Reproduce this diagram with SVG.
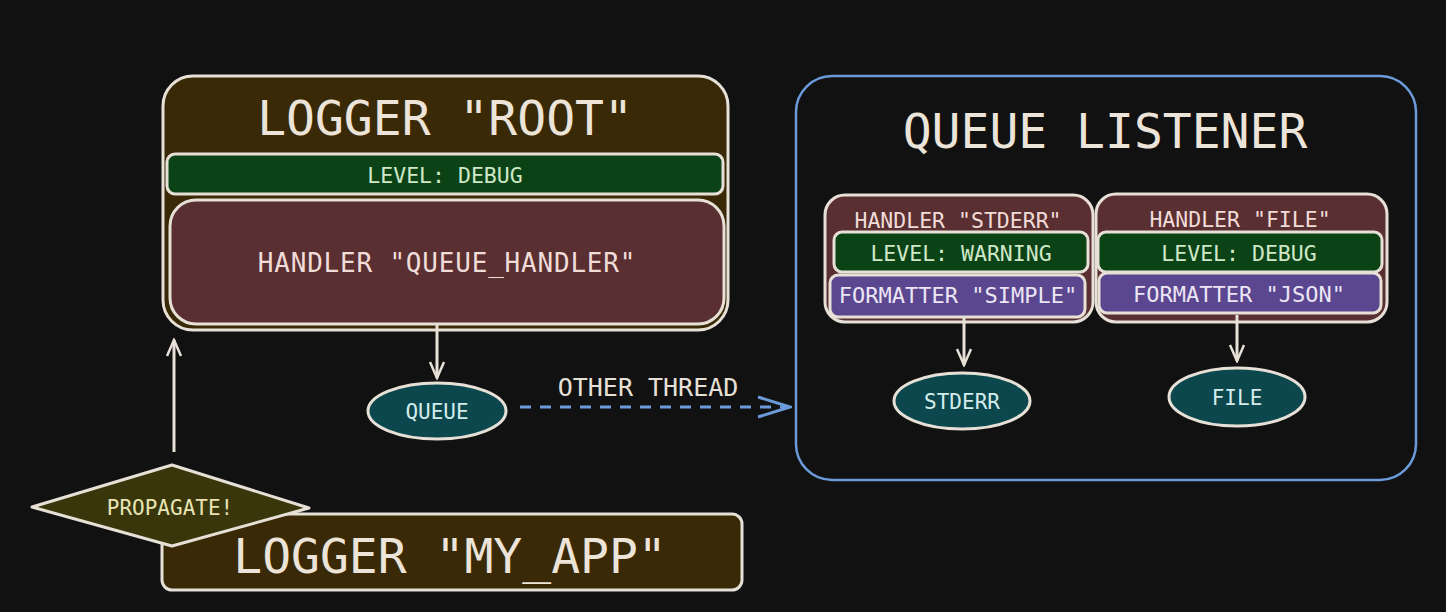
<svg xmlns="http://www.w3.org/2000/svg" width="1446" height="612" viewBox="0 0 1446 612">
<style>
text{font-family:"DejaVu Sans Mono","Liberation Mono",monospace;text-anchor:middle;dominant-baseline:central}
.ln{stroke:#e6e0d6;stroke-width:3;fill:none}
.logger{fill:#3a2906;stroke:#e6e0d6;stroke-width:3}
.level{fill:#0c4316;stroke:#e6e0d6;stroke-width:3}
.handler{fill:#5a2f31;stroke:#e6e0d6;stroke-width:3}
.fmt{fill:#5b4690;stroke:#e6e0d6;stroke-width:3}
.ell{fill:#0b474c;stroke:#e6e0d6;stroke-width:3}
.big{font-size:48px;fill:#ece4d8}
.lvt{font-size:21.5px;fill:#cfe8c8}
.hdt{font-size:21.5px;fill:#f0dcd8}
.fmtt{font-size:22px;fill:#ece6f4}
.elt{font-size:21px;fill:#d4ecec}
</style>
<defs>
<marker id="arr" viewBox="0 0 20 20" refX="18" refY="10" markerWidth="20" markerHeight="20" markerUnits="userSpaceOnUse" orient="auto">
<path d="M2 3 L18 10 L2 17" fill="none" stroke="#e6e0d6" stroke-width="2.5"/>
</marker>
<marker id="arrb" viewBox="0 0 36 30" refX="34" refY="15" markerWidth="36" markerHeight="30" markerUnits="userSpaceOnUse" orient="auto">
<path d="M2 5 L34 15 L2 25" fill="none" stroke="#6b9bd8" stroke-width="3"/>
</marker>
</defs>
<rect width="1446" height="612" fill="#111112"/>

<g id="logger-root">
<rect class="logger" x="163" y="76" width="565" height="254" rx="30"/>
<text class="big" x="445" y="118">LOGGER "ROOT"</text>
<rect class="level" x="167" y="154" width="556" height="40" rx="8"/>
<text class="lvt" x="445" y="175">LEVEL: DEBUG</text>
<rect class="handler" x="170" y="200" width="554" height="124" rx="26"/>
<text class="hdt" x="447" y="263" style="font-size:26px;letter-spacing:0.8px">HANDLER "QUEUE_HANDLER"</text>
</g>

<g id="queue">
<ellipse class="ell" cx="437" cy="411" rx="69" ry="28"/>
<text class="elt" x="437" y="412">QUEUE</text>
</g>

<g id="queue-listener">
<rect x="796" y="76" width="620" height="404" rx="36" fill="#111112" stroke="#6b9bd8" stroke-width="2.5"/>
<text class="big" x="1105" y="131">QUEUE LISTENER</text>
</g>

<g id="handler-stderr">
<rect class="handler" x="825" y="195" width="268" height="127" rx="20"/>
<text class="hdt" x="958" y="220">HANDLER "STDERR"</text>
<rect class="level" x="834" y="232" width="254" height="40" rx="8"/>
<text class="lvt" x="961" y="253">LEVEL: WARNING</text>
<rect class="fmt" x="830" y="275" width="255" height="42" rx="8"/>
<text class="fmtt" x="958" y="295">FORMATTER "SIMPLE"</text>
</g>

<g id="handler-file">
<rect class="handler" x="1096" y="194" width="291" height="128" rx="20"/>
<text class="hdt" x="1240" y="219">HANDLER "FILE"</text>
<rect class="level" x="1098" y="232" width="284" height="40" rx="8"/>
<text class="lvt" x="1239" y="253">LEVEL: DEBUG</text>
<rect class="fmt" x="1099" y="273" width="282" height="40" rx="8"/>
<text class="fmtt" x="1239" y="294">FORMATTER "JSON"</text>
</g>

<g id="stderr">
<ellipse class="ell" cx="962" cy="401" rx="68" ry="28"/>
<text class="elt" x="962" y="402">STDERR</text>
</g>

<g id="file">
<ellipse class="ell" cx="1237" cy="397" rx="68" ry="29"/>
<text class="elt" x="1237" y="398">FILE</text>
</g>

<g id="logger-my-app">
<rect class="logger" x="162" y="514" width="580" height="76" rx="10"/>
<text class="big" x="450" y="556">LOGGER "MY_APP"</text>
</g>

<g id="propagate">
<path d="M32 507 L172 465 L309 508 L172 546 Z" fill="#38360a" stroke="#e6e0d6" stroke-width="3" stroke-linejoin="round"/>
<text x="170" y="508" style="font-size:21px;fill:#e8e4b4">PROPAGATE!</text>
</g>

<g id="connectors">
<line class="ln" x1="437" y1="325" x2="437" y2="378" marker-end="url(#arr)"/>
<line x1="520" y1="407" x2="790" y2="407" stroke="#6b9bd8" stroke-width="3" stroke-dasharray="11 9" marker-end="url(#arrb)"/>
<text x="648" y="387" style="font-size:25px;fill:#e6e0d6">OTHER THREAD</text>
<line class="ln" x1="964" y1="318" x2="964" y2="365" marker-end="url(#arr)"/>
<line class="ln" x1="1237" y1="315" x2="1237" y2="361" marker-end="url(#arr)"/>
<line class="ln" x1="174" y1="452" x2="174" y2="340" marker-end="url(#arr)"/>
</g>
</svg>
